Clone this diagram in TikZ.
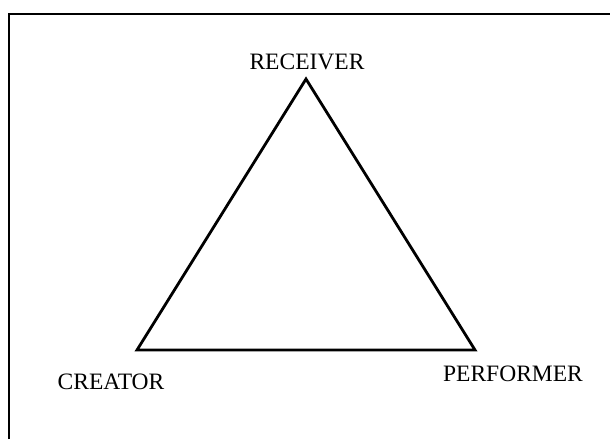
\documentclass[tikz,border=0pt]{standalone}
\usepackage{fontspec}
\setmainfont{Liberation Serif}
\begin{document}
\begin{tikzpicture}[x=1pt,y=-1pt,
  lbl/.style={font=\fontsize{23.5}{27}\selectfont, inner sep=0pt, anchor=base},
  tri/.style={line width=2.8pt, line join=miter},
  frame/.style={line width=1.8pt}]
\useasboundingbox (0,0) rectangle (610,439);
\draw[frame] (9,439) -- (9,14) -- (610,14);
\coordinate (rec) at (306,79);
\coordinate (cre) at (137,350);
\coordinate (per) at (475,350);
\draw[tri] (rec) -- (cre) -- (per) -- cycle;
\node[lbl] (lrec) at (307,69) {RECEIVER};
\node[lbl] (lcre) at (111,389) {CREATOR};
\node[lbl] (lper) at (513,381) {PERFORMER};
\end{tikzpicture}
\end{document}
